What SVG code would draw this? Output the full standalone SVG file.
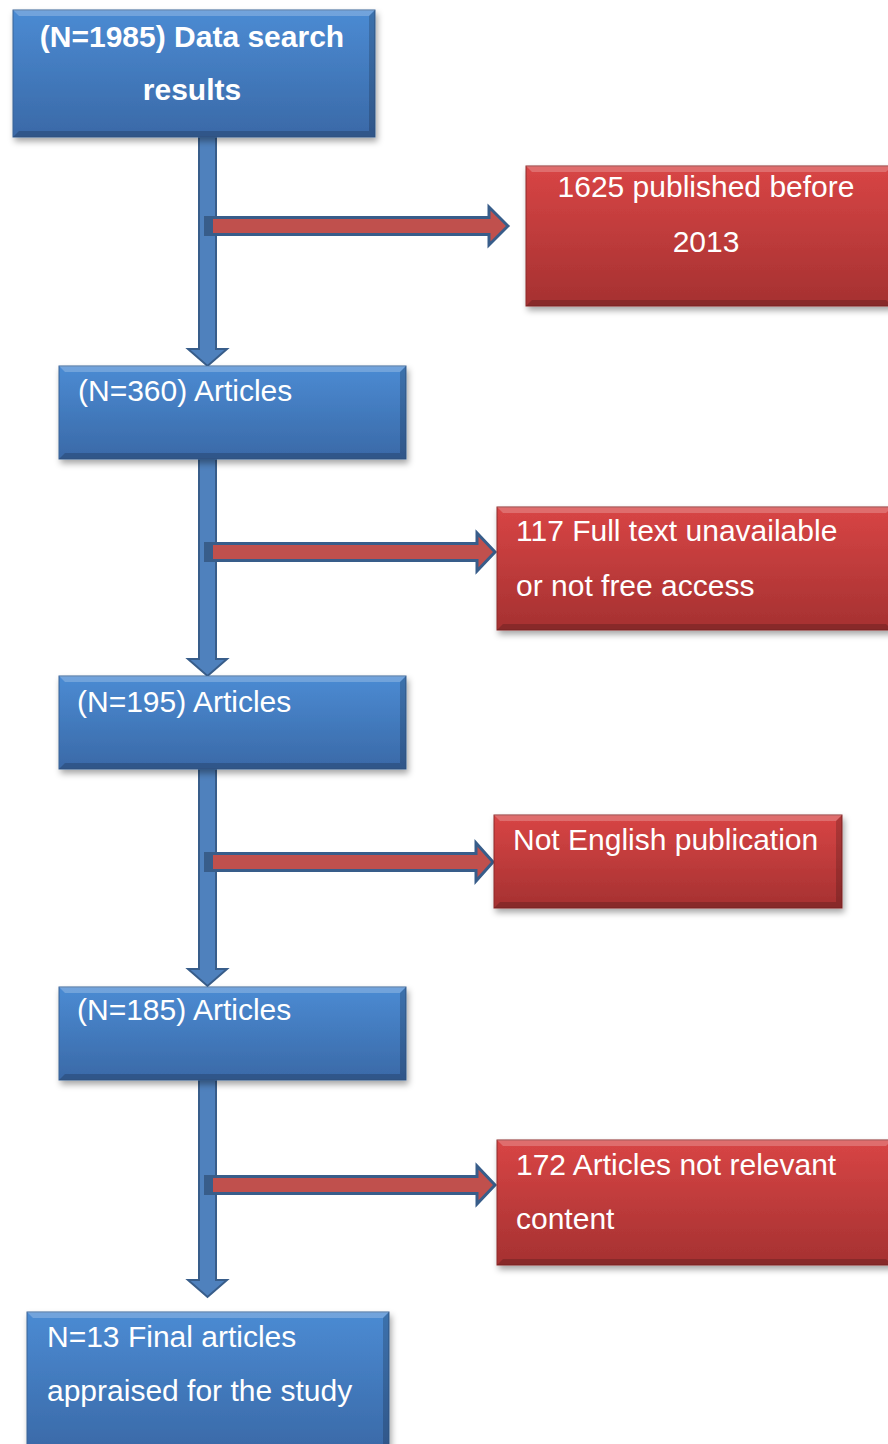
<svg xmlns="http://www.w3.org/2000/svg" width="888" height="1444" viewBox="0 0 888 1444">
<defs>
  <linearGradient id="gBlue" x1="0" y1="0" x2="0" y2="1">
    <stop offset="0" stop-color="#4b8bd3"/>
    <stop offset="1" stop-color="#3a69a7"/>
  </linearGradient>
  <linearGradient id="gRed" x1="0" y1="0" x2="0" y2="1">
    <stop offset="0" stop-color="#d84545"/>
    <stop offset="1" stop-color="#a53131"/>
  </linearGradient>
  <filter id="shadow" x="-10%" y="-10%" width="130%" height="140%">
    <feDropShadow dx="2" dy="4" stdDeviation="3" flood-color="#000" flood-opacity="0.35"/>
  </filter>
</defs>
<style>
  .blue { fill: url(#gBlue); stroke: #3a6296; stroke-width: 1; filter: url(#shadow); }
  .red { fill: url(#gRed); stroke: #8e2a2a; stroke-width: 1; filter: url(#shadow); }
  .hi { fill: #ffffff; opacity: 0.22; }
  .lo { fill: #000000; opacity: 0.18; }
  .t { font-family: "Liberation Sans", Arial, Helvetica, sans-serif; font-size: 30px; fill: #ffffff; }
  .b { font-weight: bold; }
  .va { fill: #4f81bd; stroke: #385d8a; stroke-width: 2; stroke-linejoin: miter; }
  .ha { fill: #c0504d; stroke: #385d8a; stroke-width: 3; stroke-linejoin: miter; }
  .blk { fill: #385d8a; }
</style>

<g id="connectors">
  <!-- vertical arrows -->
  <polygon class="va" points="199,137 216,137 216,349 227,349 207.5,366 188,349 199,349"/>
  <polygon class="va" points="199,459 216,459 216,659 227,659 207.5,676 188,659 199,659"/>
  <polygon class="va" points="199,769 216,769 216,969 227,969 207.5,986 188,969 199,969"/>
  <polygon class="va" points="199,1080 216,1080 216,1280 227,1280 207.5,1297 188,1280 199,1280"/>
  <!-- horizontal arrows -->
  <polygon class="ha" points="206,217.5 489,217.5 489,207 508,226 489,245 489,234.5 206,234.5"/>
  <rect class="blk" x="204" y="216" width="9" height="20"/>
  <polygon class="ha" points="206,543.5 477,543.5 477,533 495,552 477,571 477,560.5 206,560.5"/>
  <rect class="blk" x="204" y="542" width="9" height="20"/>
  <polygon class="ha" points="206,853.5 476,853.5 476,843 493,862 476,881 476,870.5 206,870.5"/>
  <rect class="blk" x="204" y="852" width="9" height="20"/>
  <polygon class="ha" points="206,1176.5 477,1176.5 477,1166 495,1185 477,1204 477,1193.5 206,1193.5"/>
  <rect class="blk" x="204" y="1175" width="9" height="20"/>
</g>

<g id="n1985">
  <rect class="blue" x="13" y="10" width="362" height="127"/>
  <polygon class="hi" points="13,10 375,10 369,16 19,16"/>
  <polygon class="lo" points="375,10 375,137 369,131 369,16"/>
  <polygon class="lo" points="13,137 375,137 369,131 19,131"/>
  <text class="t b" x="192" y="47" text-anchor="middle">(N=1985) Data search</text>
  <text class="t b" x="192" y="100" text-anchor="middle">results</text>
</g>

<g id="excl1625">
  <rect class="red" x="526" y="166" width="366" height="140"/>
  <polygon class="hi" points="526,166 892,166 886,172 532,172"/>
  <polygon class="lo" points="526,306 892,306 886,300 532,300"/>
  <text class="t" x="706" y="197" text-anchor="middle">1625 published before</text>
  <text class="t" x="706" y="252" text-anchor="middle">2013</text>
</g>

<g id="n360">
  <rect class="blue" x="59" y="366" width="347" height="93"/>
  <polygon class="hi" points="59,366 406,366 400,372 65,372"/>
  <polygon class="lo" points="406,366 406,459 400,453 400,372"/>
  <polygon class="lo" points="59,459 406,459 400,453 65,453"/>
  <text class="t" x="78" y="401">(N=360) Articles</text>
</g>

<g id="excl117">
  <rect class="red" x="497" y="507" width="395" height="123"/>
  <polygon class="hi" points="497,507 892,507 886,513 503,513"/>
  <polygon class="lo" points="497,630 892,630 886,624 503,624"/>
  <text class="t" x="516" y="541">117 Full text unavailable</text>
  <text class="t" x="516" y="596">or not free access</text>
</g>

<g id="n195">
  <rect class="blue" x="59" y="676" width="347" height="93"/>
  <polygon class="hi" points="59,676 406,676 400,682 65,682"/>
  <polygon class="lo" points="406,676 406,769 400,763 400,682"/>
  <polygon class="lo" points="59,769 406,769 400,763 65,763"/>
  <text class="t" x="77" y="712">(N=195) Articles</text>
</g>

<g id="exclLang">
  <rect class="red" x="494" y="815" width="348" height="93"/>
  <polygon class="hi" points="494,815 842,815 836,821 500,821"/>
  <polygon class="lo" points="842,815 842,908 836,902 836,821"/>
  <polygon class="lo" points="494,908 842,908 836,902 500,902"/>
  <text class="t" x="513" y="850">Not English publication</text>
</g>

<g id="n185">
  <rect class="blue" x="59" y="987" width="347" height="93"/>
  <polygon class="hi" points="59,987 406,987 400,993 65,993"/>
  <polygon class="lo" points="406,987 406,1080 400,1074 400,993"/>
  <polygon class="lo" points="59,1080 406,1080 400,1074 65,1074"/>
  <text class="t" x="77" y="1020">(N=185) Articles</text>
</g>

<g id="excl172">
  <rect class="red" x="497" y="1140" width="395" height="125"/>
  <polygon class="hi" points="497,1140 892,1140 886,1146 503,1146"/>
  <polygon class="lo" points="497,1265 892,1265 886,1259 503,1259"/>
  <text class="t" x="516" y="1175">172 Articles not relevant</text>
  <text class="t" x="516" y="1229">content</text>
</g>

<g id="n13">
  <rect class="blue" x="27" y="1312" width="362" height="140"/>
  <polygon class="hi" points="27,1312 389,1312 383,1318 33,1318"/>
  <polygon class="lo" points="389,1312 389,1452 383,1452 383,1318"/>
  <text class="t" x="47" y="1347">N=13 Final articles</text>
  <text class="t" x="47" y="1401">appraised for the study</text>
</g>
</svg>
